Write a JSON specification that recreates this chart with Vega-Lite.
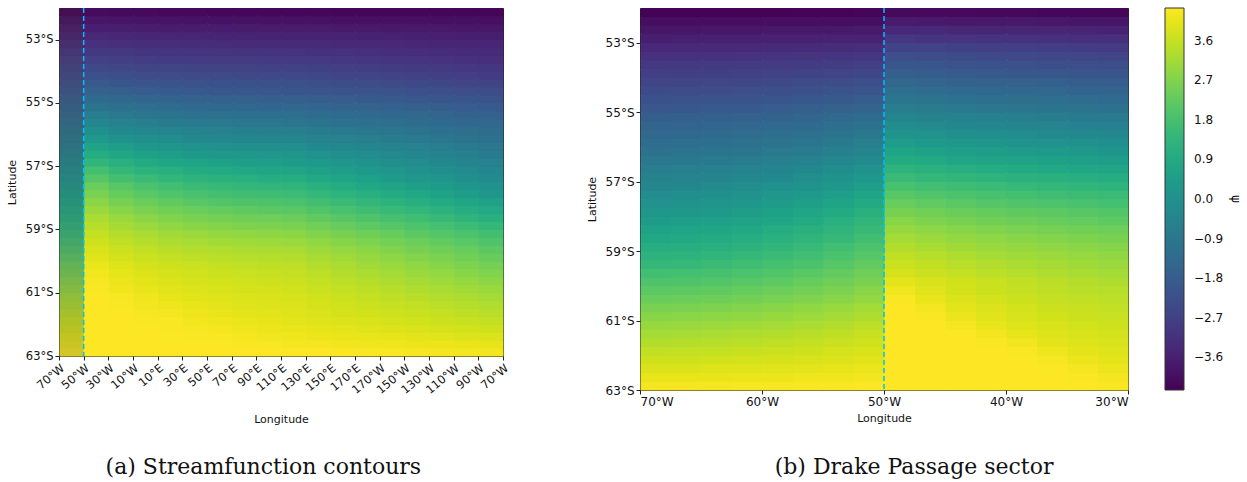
{
"$schema": "https://vega.github.io/schema/vega-lite/v6.json",
"background": "white",
"padding": {"left": 5, "top": 6, "right": 0, "bottom": 0},
"config": {
 "font": "DejaVu Sans",
 "view": {"stroke": "#222", "strokeWidth": 1},
 "axis": {"grid": false, "domain": false, "tickColor": "#222", "tickSize": 4, "labelColor": "#111", "titleColor": "#111", "labelFont": "DejaVu Sans", "labelFontSize": 11.5, "titleFont": "DejaVu Sans", "titleFontSize": 11, "titleFontWeight": "normal", "labelOverlap": false, "labelBound": false, "labelPadding": 2}
},
"datasets": {
"a": [
{"lon":-60,"lat":52.125,"psi":-4.3},{"lon":-40,"lat":52.125,"psi":-4.13},{"lon":-20,"lat":52.125,"psi":-4.16},{"lon":0,"lat":52.125,"psi":-4.17},{"lon":20,"lat":52.125,"psi":-4.19},{"lon":40,"lat":52.125,"psi":-4.2},{"lon":60,"lat":52.125,"psi":-4.21},{"lon":80,"lat":52.125,"psi":-4.21},{"lon":100,"lat":52.125,"psi":-4.22},{"lon":120,"lat":52.125,"psi":-4.22},{"lon":140,"lat":52.125,"psi":-4.22},{"lon":160,"lat":52.125,"psi":-4.23},{"lon":180,"lat":52.125,"psi":-4.23},{"lon":200,"lat":52.125,"psi":-4.23},{"lon":220,"lat":52.125,"psi":-4.24},{"lon":240,"lat":52.125,"psi":-4.24},{"lon":260,"lat":52.125,"psi":-4.25},{"lon":280,"lat":52.125,"psi":-4.25},
{"lon":-60,"lat":52.375,"psi":-4.07},{"lon":-40,"lat":52.375,"psi":-3.88},{"lon":-20,"lat":52.375,"psi":-3.91},{"lon":0,"lat":52.375,"psi":-3.93},{"lon":20,"lat":52.375,"psi":-3.94},{"lon":40,"lat":52.375,"psi":-3.96},{"lon":60,"lat":52.375,"psi":-3.96},{"lon":80,"lat":52.375,"psi":-3.97},{"lon":100,"lat":52.375,"psi":-3.98},{"lon":120,"lat":52.375,"psi":-3.98},{"lon":140,"lat":52.375,"psi":-3.99},{"lon":160,"lat":52.375,"psi":-4.0},{"lon":180,"lat":52.375,"psi":-4.01},{"lon":200,"lat":52.375,"psi":-4.01},{"lon":220,"lat":52.375,"psi":-4.02},{"lon":240,"lat":52.375,"psi":-4.03},{"lon":260,"lat":52.375,"psi":-4.04},{"lon":280,"lat":52.375,"psi":-4.05},
{"lon":-60,"lat":52.625,"psi":-3.83},{"lon":-40,"lat":52.625,"psi":-3.63},{"lon":-20,"lat":52.625,"psi":-3.66},{"lon":0,"lat":52.625,"psi":-3.68},{"lon":20,"lat":52.625,"psi":-3.7},{"lon":40,"lat":52.625,"psi":-3.71},{"lon":60,"lat":52.625,"psi":-3.72},{"lon":80,"lat":52.625,"psi":-3.73},{"lon":100,"lat":52.625,"psi":-3.74},{"lon":120,"lat":52.625,"psi":-3.74},{"lon":140,"lat":52.625,"psi":-3.75},{"lon":160,"lat":52.625,"psi":-3.77},{"lon":180,"lat":52.625,"psi":-3.78},{"lon":200,"lat":52.625,"psi":-3.79},{"lon":220,"lat":52.625,"psi":-3.81},{"lon":240,"lat":52.625,"psi":-3.82},{"lon":260,"lat":52.625,"psi":-3.84},{"lon":280,"lat":52.625,"psi":-3.85},
{"lon":-60,"lat":52.875,"psi":-3.6},{"lon":-40,"lat":52.875,"psi":-3.39},{"lon":-20,"lat":52.875,"psi":-3.43},{"lon":0,"lat":52.875,"psi":-3.45},{"lon":20,"lat":52.875,"psi":-3.47},{"lon":40,"lat":52.875,"psi":-3.49},{"lon":60,"lat":52.875,"psi":-3.5},{"lon":80,"lat":52.875,"psi":-3.51},{"lon":100,"lat":52.875,"psi":-3.52},{"lon":120,"lat":52.875,"psi":-3.52},{"lon":140,"lat":52.875,"psi":-3.54},{"lon":160,"lat":52.875,"psi":-3.55},{"lon":180,"lat":52.875,"psi":-3.57},{"lon":200,"lat":52.875,"psi":-3.59},{"lon":220,"lat":52.875,"psi":-3.6},{"lon":240,"lat":52.875,"psi":-3.62},{"lon":260,"lat":52.875,"psi":-3.64},{"lon":280,"lat":52.875,"psi":-3.66},
{"lon":-60,"lat":53.125,"psi":-3.34},{"lon":-40,"lat":53.125,"psi":-3.16},{"lon":-20,"lat":53.125,"psi":-3.2},{"lon":0,"lat":53.125,"psi":-3.23},{"lon":20,"lat":53.125,"psi":-3.25},{"lon":40,"lat":53.125,"psi":-3.27},{"lon":60,"lat":53.125,"psi":-3.29},{"lon":80,"lat":53.125,"psi":-3.3},{"lon":100,"lat":53.125,"psi":-3.3},{"lon":120,"lat":53.125,"psi":-3.31},{"lon":140,"lat":53.125,"psi":-3.33},{"lon":160,"lat":53.125,"psi":-3.35},{"lon":180,"lat":53.125,"psi":-3.38},{"lon":200,"lat":53.125,"psi":-3.4},{"lon":220,"lat":53.125,"psi":-3.42},{"lon":240,"lat":53.125,"psi":-3.44},{"lon":260,"lat":53.125,"psi":-3.47},{"lon":280,"lat":53.125,"psi":-3.49},
{"lon":-60,"lat":53.375,"psi":-3.1},{"lon":-40,"lat":53.375,"psi":-2.94},{"lon":-20,"lat":53.375,"psi":-2.99},{"lon":0,"lat":53.375,"psi":-3.02},{"lon":20,"lat":53.375,"psi":-3.04},{"lon":40,"lat":53.375,"psi":-3.06},{"lon":60,"lat":53.375,"psi":-3.07},{"lon":80,"lat":53.375,"psi":-3.09},{"lon":100,"lat":53.375,"psi":-3.09},{"lon":120,"lat":53.375,"psi":-3.1},{"lon":140,"lat":53.375,"psi":-3.13},{"lon":160,"lat":53.375,"psi":-3.16},{"lon":180,"lat":53.375,"psi":-3.18},{"lon":200,"lat":53.375,"psi":-3.21},{"lon":220,"lat":53.375,"psi":-3.24},{"lon":240,"lat":53.375,"psi":-3.27},{"lon":260,"lat":53.375,"psi":-3.3},{"lon":280,"lat":53.375,"psi":-3.33},
{"lon":-60,"lat":53.625,"psi":-2.88},{"lon":-40,"lat":53.625,"psi":-2.71},{"lon":-20,"lat":53.625,"psi":-2.76},{"lon":0,"lat":53.625,"psi":-2.8},{"lon":20,"lat":53.625,"psi":-2.83},{"lon":40,"lat":53.625,"psi":-2.85},{"lon":60,"lat":53.625,"psi":-2.87},{"lon":80,"lat":53.625,"psi":-2.88},{"lon":100,"lat":53.625,"psi":-2.89},{"lon":120,"lat":53.625,"psi":-2.9},{"lon":140,"lat":53.625,"psi":-2.93},{"lon":160,"lat":53.625,"psi":-2.97},{"lon":180,"lat":53.625,"psi":-3.0},{"lon":200,"lat":53.625,"psi":-3.03},{"lon":220,"lat":53.625,"psi":-3.07},{"lon":240,"lat":53.625,"psi":-3.1},{"lon":260,"lat":53.625,"psi":-3.14},{"lon":280,"lat":53.625,"psi":-3.18},
{"lon":-60,"lat":53.875,"psi":-2.68},{"lon":-40,"lat":53.875,"psi":-2.48},{"lon":-20,"lat":53.875,"psi":-2.54},{"lon":0,"lat":53.875,"psi":-2.59},{"lon":20,"lat":53.875,"psi":-2.62},{"lon":40,"lat":53.875,"psi":-2.65},{"lon":60,"lat":53.875,"psi":-2.67},{"lon":80,"lat":53.875,"psi":-2.68},{"lon":100,"lat":53.875,"psi":-2.69},{"lon":120,"lat":53.875,"psi":-2.7},{"lon":140,"lat":53.875,"psi":-2.74},{"lon":160,"lat":53.875,"psi":-2.77},{"lon":180,"lat":53.875,"psi":-2.81},{"lon":200,"lat":53.875,"psi":-2.85},{"lon":220,"lat":53.875,"psi":-2.89},{"lon":240,"lat":53.875,"psi":-2.92},{"lon":260,"lat":53.875,"psi":-2.97},{"lon":280,"lat":53.875,"psi":-3.01},
{"lon":-60,"lat":54.125,"psi":-2.49},{"lon":-40,"lat":54.125,"psi":-2.23},{"lon":-20,"lat":54.125,"psi":-2.3},{"lon":0,"lat":54.125,"psi":-2.36},{"lon":20,"lat":54.125,"psi":-2.39},{"lon":40,"lat":54.125,"psi":-2.43},{"lon":60,"lat":54.125,"psi":-2.45},{"lon":80,"lat":54.125,"psi":-2.47},{"lon":100,"lat":54.125,"psi":-2.48},{"lon":120,"lat":54.125,"psi":-2.49},{"lon":140,"lat":54.125,"psi":-2.53},{"lon":160,"lat":54.125,"psi":-2.57},{"lon":180,"lat":54.125,"psi":-2.62},{"lon":200,"lat":54.125,"psi":-2.66},{"lon":220,"lat":54.125,"psi":-2.7},{"lon":240,"lat":54.125,"psi":-2.74},{"lon":260,"lat":54.125,"psi":-2.79},{"lon":280,"lat":54.125,"psi":-2.84},
{"lon":-60,"lat":54.375,"psi":-2.29},{"lon":-40,"lat":54.375,"psi":-1.95},{"lon":-20,"lat":54.375,"psi":-2.04},{"lon":0,"lat":54.375,"psi":-2.1},{"lon":20,"lat":54.375,"psi":-2.15},{"lon":40,"lat":54.375,"psi":-2.18},{"lon":60,"lat":54.375,"psi":-2.21},{"lon":80,"lat":54.375,"psi":-2.23},{"lon":100,"lat":54.375,"psi":-2.25},{"lon":120,"lat":54.375,"psi":-2.26},{"lon":140,"lat":54.375,"psi":-2.3},{"lon":160,"lat":54.375,"psi":-2.35},{"lon":180,"lat":54.375,"psi":-2.39},{"lon":200,"lat":54.375,"psi":-2.44},{"lon":220,"lat":54.375,"psi":-2.48},{"lon":240,"lat":54.375,"psi":-2.53},{"lon":260,"lat":54.375,"psi":-2.58},{"lon":280,"lat":54.375,"psi":-2.63},
{"lon":-60,"lat":54.625,"psi":-2.07},{"lon":-40,"lat":54.625,"psi":-1.65},{"lon":-20,"lat":54.625,"psi":-1.75},{"lon":0,"lat":54.625,"psi":-1.83},{"lon":20,"lat":54.625,"psi":-1.88},{"lon":40,"lat":54.625,"psi":-1.93},{"lon":60,"lat":54.625,"psi":-1.96},{"lon":80,"lat":54.625,"psi":-1.99},{"lon":100,"lat":54.625,"psi":-2.01},{"lon":120,"lat":54.625,"psi":-2.02},{"lon":140,"lat":54.625,"psi":-2.06},{"lon":160,"lat":54.625,"psi":-2.11},{"lon":180,"lat":54.625,"psi":-2.15},{"lon":200,"lat":54.625,"psi":-2.19},{"lon":220,"lat":54.625,"psi":-2.24},{"lon":240,"lat":54.625,"psi":-2.28},{"lon":260,"lat":54.625,"psi":-2.33},{"lon":280,"lat":54.625,"psi":-2.38},
{"lon":-60,"lat":54.875,"psi":-1.86},{"lon":-40,"lat":54.875,"psi":-1.34},{"lon":-20,"lat":54.875,"psi":-1.46},{"lon":0,"lat":54.875,"psi":-1.54},{"lon":20,"lat":54.875,"psi":-1.6},{"lon":40,"lat":54.875,"psi":-1.66},{"lon":60,"lat":54.875,"psi":-1.69},{"lon":80,"lat":54.875,"psi":-1.72},{"lon":100,"lat":54.875,"psi":-1.74},{"lon":120,"lat":54.875,"psi":-1.76},{"lon":140,"lat":54.875,"psi":-1.81},{"lon":160,"lat":54.875,"psi":-1.85},{"lon":180,"lat":54.875,"psi":-1.9},{"lon":200,"lat":54.875,"psi":-1.94},{"lon":220,"lat":54.875,"psi":-1.99},{"lon":240,"lat":54.875,"psi":-2.03},{"lon":260,"lat":54.875,"psi":-2.09},{"lon":280,"lat":54.875,"psi":-2.14},
{"lon":-60,"lat":55.125,"psi":-1.64},{"lon":-40,"lat":55.125,"psi":-1.01},{"lon":-20,"lat":55.125,"psi":-1.14},{"lon":0,"lat":55.125,"psi":-1.24},{"lon":20,"lat":55.125,"psi":-1.31},{"lon":40,"lat":55.125,"psi":-1.37},{"lon":60,"lat":55.125,"psi":-1.41},{"lon":80,"lat":55.125,"psi":-1.45},{"lon":100,"lat":55.125,"psi":-1.47},{"lon":120,"lat":55.125,"psi":-1.49},{"lon":140,"lat":55.125,"psi":-1.54},{"lon":160,"lat":55.125,"psi":-1.59},{"lon":180,"lat":55.125,"psi":-1.64},{"lon":200,"lat":55.125,"psi":-1.69},{"lon":220,"lat":55.125,"psi":-1.74},{"lon":240,"lat":55.125,"psi":-1.79},{"lon":260,"lat":55.125,"psi":-1.85},{"lon":280,"lat":55.125,"psi":-1.91},
{"lon":-60,"lat":55.375,"psi":-1.44},{"lon":-40,"lat":55.375,"psi":-0.69},{"lon":-20,"lat":55.375,"psi":-0.84},{"lon":0,"lat":55.375,"psi":-0.94},{"lon":20,"lat":55.375,"psi":-1.02},{"lon":40,"lat":55.375,"psi":-1.08},{"lon":60,"lat":55.375,"psi":-1.13},{"lon":80,"lat":55.375,"psi":-1.16},{"lon":100,"lat":55.375,"psi":-1.19},{"lon":120,"lat":55.375,"psi":-1.21},{"lon":140,"lat":55.375,"psi":-1.27},{"lon":160,"lat":55.375,"psi":-1.33},{"lon":180,"lat":55.375,"psi":-1.39},{"lon":200,"lat":55.375,"psi":-1.45},{"lon":220,"lat":55.375,"psi":-1.5},{"lon":240,"lat":55.375,"psi":-1.56},{"lon":260,"lat":55.375,"psi":-1.63},{"lon":280,"lat":55.375,"psi":-1.7},
{"lon":-60,"lat":55.625,"psi":-1.25},{"lon":-40,"lat":55.625,"psi":-0.36},{"lon":-20,"lat":55.625,"psi":-0.52},{"lon":0,"lat":55.625,"psi":-0.64},{"lon":20,"lat":55.625,"psi":-0.73},{"lon":40,"lat":55.625,"psi":-0.8},{"lon":60,"lat":55.625,"psi":-0.85},{"lon":80,"lat":55.625,"psi":-0.89},{"lon":100,"lat":55.625,"psi":-0.92},{"lon":120,"lat":55.625,"psi":-0.94},{"lon":140,"lat":55.625,"psi":-1.01},{"lon":160,"lat":55.625,"psi":-1.07},{"lon":180,"lat":55.625,"psi":-1.14},{"lon":200,"lat":55.625,"psi":-1.21},{"lon":220,"lat":55.625,"psi":-1.28},{"lon":240,"lat":55.625,"psi":-1.34},{"lon":260,"lat":55.625,"psi":-1.42},{"lon":280,"lat":55.625,"psi":-1.5},
{"lon":-60,"lat":55.875,"psi":-1.06},{"lon":-40,"lat":55.875,"psi":-0.03},{"lon":-20,"lat":55.875,"psi":-0.21},{"lon":0,"lat":55.875,"psi":-0.33},{"lon":20,"lat":55.875,"psi":-0.43},{"lon":40,"lat":55.875,"psi":-0.5},{"lon":60,"lat":55.875,"psi":-0.56},{"lon":80,"lat":55.875,"psi":-0.6},{"lon":100,"lat":55.875,"psi":-0.64},{"lon":120,"lat":55.875,"psi":-0.66},{"lon":140,"lat":55.875,"psi":-0.74},{"lon":160,"lat":55.875,"psi":-0.81},{"lon":180,"lat":55.875,"psi":-0.89},{"lon":200,"lat":55.875,"psi":-0.97},{"lon":220,"lat":55.875,"psi":-1.04},{"lon":240,"lat":55.875,"psi":-1.12},{"lon":260,"lat":55.875,"psi":-1.21},{"lon":280,"lat":55.875,"psi":-1.3},
{"lon":-60,"lat":56.125,"psi":-0.87},{"lon":-40,"lat":56.125,"psi":0.33},{"lon":-20,"lat":56.125,"psi":0.13},{"lon":0,"lat":56.125,"psi":-0.02},{"lon":20,"lat":56.125,"psi":-0.12},{"lon":40,"lat":56.125,"psi":-0.21},{"lon":60,"lat":56.125,"psi":-0.28},{"lon":80,"lat":56.125,"psi":-0.33},{"lon":100,"lat":56.125,"psi":-0.36},{"lon":120,"lat":56.125,"psi":-0.39},{"lon":140,"lat":56.125,"psi":-0.48},{"lon":160,"lat":56.125,"psi":-0.56},{"lon":180,"lat":56.125,"psi":-0.65},{"lon":200,"lat":56.125,"psi":-0.73},{"lon":220,"lat":56.125,"psi":-0.82},{"lon":240,"lat":56.125,"psi":-0.9},{"lon":260,"lat":56.125,"psi":-1.0},{"lon":280,"lat":56.125,"psi":-1.1},
{"lon":-60,"lat":56.375,"psi":-0.67},{"lon":-40,"lat":56.375,"psi":0.68},{"lon":-20,"lat":56.375,"psi":0.46},{"lon":0,"lat":56.375,"psi":0.3},{"lon":20,"lat":56.375,"psi":0.18},{"lon":40,"lat":56.375,"psi":0.09},{"lon":60,"lat":56.375,"psi":0.02},{"lon":80,"lat":56.375,"psi":-0.04},{"lon":100,"lat":56.375,"psi":-0.08},{"lon":120,"lat":56.375,"psi":-0.11},{"lon":140,"lat":56.375,"psi":-0.21},{"lon":160,"lat":56.375,"psi":-0.3},{"lon":180,"lat":56.375,"psi":-0.4},{"lon":200,"lat":56.375,"psi":-0.49},{"lon":220,"lat":56.375,"psi":-0.59},{"lon":240,"lat":56.375,"psi":-0.69},{"lon":260,"lat":56.375,"psi":-0.8},{"lon":280,"lat":56.375,"psi":-0.91},
{"lon":-60,"lat":56.625,"psi":-0.45},{"lon":-40,"lat":56.625,"psi":1.03},{"lon":-20,"lat":56.625,"psi":0.79},{"lon":0,"lat":56.625,"psi":0.61},{"lon":20,"lat":56.625,"psi":0.48},{"lon":40,"lat":56.625,"psi":0.38},{"lon":60,"lat":56.625,"psi":0.3},{"lon":80,"lat":56.625,"psi":0.24},{"lon":100,"lat":56.625,"psi":0.2},{"lon":120,"lat":56.625,"psi":0.16},{"lon":140,"lat":56.625,"psi":0.05},{"lon":160,"lat":56.625,"psi":-0.06},{"lon":180,"lat":56.625,"psi":-0.16},{"lon":200,"lat":56.625,"psi":-0.27},{"lon":220,"lat":56.625,"psi":-0.38},{"lon":240,"lat":56.625,"psi":-0.49},{"lon":260,"lat":56.625,"psi":-0.61},{"lon":280,"lat":56.625,"psi":-0.74},
{"lon":-60,"lat":56.875,"psi":-0.25},{"lon":-40,"lat":56.875,"psi":1.38},{"lon":-20,"lat":56.875,"psi":1.12},{"lon":0,"lat":56.875,"psi":0.93},{"lon":20,"lat":56.875,"psi":0.79},{"lon":40,"lat":56.875,"psi":0.68},{"lon":60,"lat":56.875,"psi":0.6},{"lon":80,"lat":56.875,"psi":0.53},{"lon":100,"lat":56.875,"psi":0.49},{"lon":120,"lat":56.875,"psi":0.45},{"lon":140,"lat":56.875,"psi":0.33},{"lon":160,"lat":56.875,"psi":0.21},{"lon":180,"lat":56.875,"psi":0.09},{"lon":200,"lat":56.875,"psi":-0.04},{"lon":220,"lat":56.875,"psi":-0.16},{"lon":240,"lat":56.875,"psi":-0.28},{"lon":260,"lat":56.875,"psi":-0.42},{"lon":280,"lat":56.875,"psi":-0.56},
{"lon":-60,"lat":57.125,"psi":-0.06},{"lon":-40,"lat":57.125,"psi":1.73},{"lon":-20,"lat":57.125,"psi":1.45},{"lon":0,"lat":57.125,"psi":1.26},{"lon":20,"lat":57.125,"psi":1.11},{"lon":40,"lat":57.125,"psi":0.99},{"lon":60,"lat":57.125,"psi":0.9},{"lon":80,"lat":57.125,"psi":0.83},{"lon":100,"lat":57.125,"psi":0.78},{"lon":120,"lat":57.125,"psi":0.74},{"lon":140,"lat":57.125,"psi":0.6},{"lon":160,"lat":57.125,"psi":0.47},{"lon":180,"lat":57.125,"psi":0.33},{"lon":200,"lat":57.125,"psi":0.2},{"lon":220,"lat":57.125,"psi":0.06},{"lon":240,"lat":57.125,"psi":-0.07},{"lon":260,"lat":57.125,"psi":-0.23},{"lon":280,"lat":57.125,"psi":-0.39},
{"lon":-60,"lat":57.375,"psi":0.14},{"lon":-40,"lat":57.375,"psi":2.05},{"lon":-20,"lat":57.375,"psi":1.76},{"lon":0,"lat":57.375,"psi":1.56},{"lon":20,"lat":57.375,"psi":1.4},{"lon":40,"lat":57.375,"psi":1.28},{"lon":60,"lat":57.375,"psi":1.19},{"lon":80,"lat":57.375,"psi":1.11},{"lon":100,"lat":57.375,"psi":1.06},{"lon":120,"lat":57.375,"psi":1.02},{"lon":140,"lat":57.375,"psi":0.88},{"lon":160,"lat":57.375,"psi":0.73},{"lon":180,"lat":57.375,"psi":0.58},{"lon":200,"lat":57.375,"psi":0.44},{"lon":220,"lat":57.375,"psi":0.29},{"lon":240,"lat":57.375,"psi":0.15},{"lon":260,"lat":57.375,"psi":-0.02},{"lon":280,"lat":57.375,"psi":-0.19},
{"lon":-60,"lat":57.625,"psi":0.35},{"lon":-40,"lat":57.625,"psi":2.35},{"lon":-20,"lat":57.625,"psi":2.06},{"lon":0,"lat":57.625,"psi":1.85},{"lon":20,"lat":57.625,"psi":1.7},{"lon":40,"lat":57.625,"psi":1.57},{"lon":60,"lat":57.625,"psi":1.48},{"lon":80,"lat":57.625,"psi":1.4},{"lon":100,"lat":57.625,"psi":1.35},{"lon":120,"lat":57.625,"psi":1.31},{"lon":140,"lat":57.625,"psi":1.16},{"lon":160,"lat":57.625,"psi":1.01},{"lon":180,"lat":57.625,"psi":0.85},{"lon":200,"lat":57.625,"psi":0.7},{"lon":220,"lat":57.625,"psi":0.55},{"lon":240,"lat":57.625,"psi":0.4},{"lon":260,"lat":57.625,"psi":0.22},{"lon":280,"lat":57.625,"psi":0.04},
{"lon":-60,"lat":57.875,"psi":0.55},{"lon":-40,"lat":57.875,"psi":2.61},{"lon":-20,"lat":57.875,"psi":2.32},{"lon":0,"lat":57.875,"psi":2.12},{"lon":20,"lat":57.875,"psi":1.97},{"lon":40,"lat":57.875,"psi":1.85},{"lon":60,"lat":57.875,"psi":1.75},{"lon":80,"lat":57.875,"psi":1.68},{"lon":100,"lat":57.875,"psi":1.63},{"lon":120,"lat":57.875,"psi":1.59},{"lon":140,"lat":57.875,"psi":1.44},{"lon":160,"lat":57.875,"psi":1.28},{"lon":180,"lat":57.875,"psi":1.13},{"lon":200,"lat":57.875,"psi":0.97},{"lon":220,"lat":57.875,"psi":0.82},{"lon":240,"lat":57.875,"psi":0.66},{"lon":260,"lat":57.875,"psi":0.48},{"lon":280,"lat":57.875,"psi":0.3},
{"lon":-60,"lat":58.125,"psi":0.75},{"lon":-40,"lat":58.125,"psi":2.84},{"lon":-20,"lat":58.125,"psi":2.57},{"lon":0,"lat":58.125,"psi":2.37},{"lon":20,"lat":58.125,"psi":2.22},{"lon":40,"lat":58.125,"psi":2.11},{"lon":60,"lat":58.125,"psi":2.02},{"lon":80,"lat":58.125,"psi":1.95},{"lon":100,"lat":58.125,"psi":1.9},{"lon":120,"lat":58.125,"psi":1.86},{"lon":140,"lat":58.125,"psi":1.71},{"lon":160,"lat":58.125,"psi":1.56},{"lon":180,"lat":58.125,"psi":1.41},{"lon":200,"lat":58.125,"psi":1.26},{"lon":220,"lat":58.125,"psi":1.1},{"lon":240,"lat":58.125,"psi":0.95},{"lon":260,"lat":58.125,"psi":0.78},{"lon":280,"lat":58.125,"psi":0.6},
{"lon":-60,"lat":58.375,"psi":0.95},{"lon":-40,"lat":58.375,"psi":3.05},{"lon":-20,"lat":58.375,"psi":2.79},{"lon":0,"lat":58.375,"psi":2.61},{"lon":20,"lat":58.375,"psi":2.47},{"lon":40,"lat":58.375,"psi":2.36},{"lon":60,"lat":58.375,"psi":2.28},{"lon":80,"lat":58.375,"psi":2.21},{"lon":100,"lat":58.375,"psi":2.17},{"lon":120,"lat":58.375,"psi":2.13},{"lon":140,"lat":58.375,"psi":1.98},{"lon":160,"lat":58.375,"psi":1.83},{"lon":180,"lat":58.375,"psi":1.68},{"lon":200,"lat":58.375,"psi":1.54},{"lon":220,"lat":58.375,"psi":1.39},{"lon":240,"lat":58.375,"psi":1.24},{"lon":260,"lat":58.375,"psi":1.06},{"lon":280,"lat":58.375,"psi":0.89},
{"lon":-60,"lat":58.625,"psi":1.14},{"lon":-40,"lat":58.625,"psi":3.25},{"lon":-20,"lat":58.625,"psi":3.01},{"lon":0,"lat":58.625,"psi":2.83},{"lon":20,"lat":58.625,"psi":2.7},{"lon":40,"lat":58.625,"psi":2.6},{"lon":60,"lat":58.625,"psi":2.52},{"lon":80,"lat":58.625,"psi":2.46},{"lon":100,"lat":58.625,"psi":2.42},{"lon":120,"lat":58.625,"psi":2.38},{"lon":140,"lat":58.625,"psi":2.23},{"lon":160,"lat":58.625,"psi":2.09},{"lon":180,"lat":58.625,"psi":1.94},{"lon":200,"lat":58.625,"psi":1.79},{"lon":220,"lat":58.625,"psi":1.65},{"lon":240,"lat":58.625,"psi":1.5},{"lon":260,"lat":58.625,"psi":1.33},{"lon":280,"lat":58.625,"psi":1.16},
{"lon":-60,"lat":58.875,"psi":1.33},{"lon":-40,"lat":58.875,"psi":3.43},{"lon":-20,"lat":58.875,"psi":3.2},{"lon":0,"lat":58.875,"psi":3.04},{"lon":20,"lat":58.875,"psi":2.91},{"lon":40,"lat":58.875,"psi":2.82},{"lon":60,"lat":58.875,"psi":2.74},{"lon":80,"lat":58.875,"psi":2.68},{"lon":100,"lat":58.875,"psi":2.64},{"lon":120,"lat":58.875,"psi":2.61},{"lon":140,"lat":58.875,"psi":2.47},{"lon":160,"lat":58.875,"psi":2.33},{"lon":180,"lat":58.875,"psi":2.19},{"lon":200,"lat":58.875,"psi":2.05},{"lon":220,"lat":58.875,"psi":1.91},{"lon":240,"lat":58.875,"psi":1.77},{"lon":260,"lat":58.875,"psi":1.6},{"lon":280,"lat":58.875,"psi":1.44},
{"lon":-60,"lat":59.125,"psi":1.52},{"lon":-40,"lat":59.125,"psi":3.58},{"lon":-20,"lat":59.125,"psi":3.37},{"lon":0,"lat":59.125,"psi":3.23},{"lon":20,"lat":59.125,"psi":3.11},{"lon":40,"lat":59.125,"psi":3.03},{"lon":60,"lat":59.125,"psi":2.96},{"lon":80,"lat":59.125,"psi":2.91},{"lon":100,"lat":59.125,"psi":2.87},{"lon":120,"lat":59.125,"psi":2.84},{"lon":140,"lat":59.125,"psi":2.7},{"lon":160,"lat":59.125,"psi":2.57},{"lon":180,"lat":59.125,"psi":2.43},{"lon":200,"lat":59.125,"psi":2.3},{"lon":220,"lat":59.125,"psi":2.16},{"lon":240,"lat":59.125,"psi":2.03},{"lon":260,"lat":59.125,"psi":1.87},{"lon":280,"lat":59.125,"psi":1.71},
{"lon":-60,"lat":59.375,"psi":1.72},{"lon":-40,"lat":59.375,"psi":3.71},{"lon":-20,"lat":59.375,"psi":3.52},{"lon":0,"lat":59.375,"psi":3.39},{"lon":20,"lat":59.375,"psi":3.29},{"lon":40,"lat":59.375,"psi":3.21},{"lon":60,"lat":59.375,"psi":3.15},{"lon":80,"lat":59.375,"psi":3.1},{"lon":100,"lat":59.375,"psi":3.07},{"lon":120,"lat":59.375,"psi":3.04},{"lon":140,"lat":59.375,"psi":2.91},{"lon":160,"lat":59.375,"psi":2.78},{"lon":180,"lat":59.375,"psi":2.65},{"lon":200,"lat":59.375,"psi":2.52},{"lon":220,"lat":59.375,"psi":2.39},{"lon":240,"lat":59.375,"psi":2.26},{"lon":260,"lat":59.375,"psi":2.1},{"lon":280,"lat":59.375,"psi":1.95},
{"lon":-60,"lat":59.625,"psi":1.94},{"lon":-40,"lat":59.625,"psi":3.84},{"lon":-20,"lat":59.625,"psi":3.66},{"lon":0,"lat":59.625,"psi":3.54},{"lon":20,"lat":59.625,"psi":3.44},{"lon":40,"lat":59.625,"psi":3.37},{"lon":60,"lat":59.625,"psi":3.31},{"lon":80,"lat":59.625,"psi":3.27},{"lon":100,"lat":59.625,"psi":3.24},{"lon":120,"lat":59.625,"psi":3.21},{"lon":140,"lat":59.625,"psi":3.08},{"lon":160,"lat":59.625,"psi":2.96},{"lon":180,"lat":59.625,"psi":2.83},{"lon":200,"lat":59.625,"psi":2.7},{"lon":220,"lat":59.625,"psi":2.57},{"lon":240,"lat":59.625,"psi":2.45},{"lon":260,"lat":59.625,"psi":2.3},{"lon":280,"lat":59.625,"psi":2.15},
{"lon":-60,"lat":59.875,"psi":2.14},{"lon":-40,"lat":59.875,"psi":3.96},{"lon":-20,"lat":59.875,"psi":3.79},{"lon":0,"lat":59.875,"psi":3.67},{"lon":20,"lat":59.875,"psi":3.58},{"lon":40,"lat":59.875,"psi":3.51},{"lon":60,"lat":59.875,"psi":3.46},{"lon":80,"lat":59.875,"psi":3.41},{"lon":100,"lat":59.875,"psi":3.38},{"lon":120,"lat":59.875,"psi":3.36},{"lon":140,"lat":59.875,"psi":3.24},{"lon":160,"lat":59.875,"psi":3.12},{"lon":180,"lat":59.875,"psi":2.99},{"lon":200,"lat":59.875,"psi":2.87},{"lon":220,"lat":59.875,"psi":2.75},{"lon":240,"lat":59.875,"psi":2.63},{"lon":260,"lat":59.875,"psi":2.48},{"lon":280,"lat":59.875,"psi":2.34},
{"lon":-60,"lat":60.125,"psi":2.36},{"lon":-40,"lat":60.125,"psi":4.09},{"lon":-20,"lat":60.125,"psi":3.92},{"lon":0,"lat":60.125,"psi":3.8},{"lon":20,"lat":60.125,"psi":3.71},{"lon":40,"lat":60.125,"psi":3.64},{"lon":60,"lat":60.125,"psi":3.59},{"lon":80,"lat":60.125,"psi":3.54},{"lon":100,"lat":60.125,"psi":3.51},{"lon":120,"lat":60.125,"psi":3.49},{"lon":140,"lat":60.125,"psi":3.37},{"lon":160,"lat":60.125,"psi":3.26},{"lon":180,"lat":60.125,"psi":3.14},{"lon":200,"lat":60.125,"psi":3.02},{"lon":220,"lat":60.125,"psi":2.9},{"lon":240,"lat":60.125,"psi":2.78},{"lon":260,"lat":60.125,"psi":2.65},{"lon":280,"lat":60.125,"psi":2.51},
{"lon":-60,"lat":60.375,"psi":2.56},{"lon":-40,"lat":60.375,"psi":4.19},{"lon":-20,"lat":60.375,"psi":4.02},{"lon":0,"lat":60.375,"psi":3.9},{"lon":20,"lat":60.375,"psi":3.81},{"lon":40,"lat":60.375,"psi":3.74},{"lon":60,"lat":60.375,"psi":3.69},{"lon":80,"lat":60.375,"psi":3.64},{"lon":100,"lat":60.375,"psi":3.61},{"lon":120,"lat":60.375,"psi":3.59},{"lon":140,"lat":60.375,"psi":3.48},{"lon":160,"lat":60.375,"psi":3.37},{"lon":180,"lat":60.375,"psi":3.27},{"lon":200,"lat":60.375,"psi":3.16},{"lon":220,"lat":60.375,"psi":3.05},{"lon":240,"lat":60.375,"psi":2.94},{"lon":260,"lat":60.375,"psi":2.82},{"lon":280,"lat":60.375,"psi":2.69},
{"lon":-60,"lat":60.625,"psi":2.78},{"lon":-40,"lat":60.625,"psi":4.26},{"lon":-20,"lat":60.625,"psi":4.09},{"lon":0,"lat":60.625,"psi":3.97},{"lon":20,"lat":60.625,"psi":3.88},{"lon":40,"lat":60.625,"psi":3.82},{"lon":60,"lat":60.625,"psi":3.77},{"lon":80,"lat":60.625,"psi":3.73},{"lon":100,"lat":60.625,"psi":3.7},{"lon":120,"lat":60.625,"psi":3.68},{"lon":140,"lat":60.625,"psi":3.58},{"lon":160,"lat":60.625,"psi":3.48},{"lon":180,"lat":60.625,"psi":3.39},{"lon":200,"lat":60.625,"psi":3.29},{"lon":220,"lat":60.625,"psi":3.19},{"lon":240,"lat":60.625,"psi":3.09},{"lon":260,"lat":60.625,"psi":2.98},{"lon":280,"lat":60.625,"psi":2.86},
{"lon":-60,"lat":60.875,"psi":2.97},{"lon":-40,"lat":60.875,"psi":4.31},{"lon":-20,"lat":60.875,"psi":4.17},{"lon":0,"lat":60.875,"psi":4.05},{"lon":20,"lat":60.875,"psi":3.96},{"lon":40,"lat":60.875,"psi":3.9},{"lon":60,"lat":60.875,"psi":3.85},{"lon":80,"lat":60.875,"psi":3.81},{"lon":100,"lat":60.875,"psi":3.78},{"lon":120,"lat":60.875,"psi":3.75},{"lon":140,"lat":60.875,"psi":3.66},{"lon":160,"lat":60.875,"psi":3.58},{"lon":180,"lat":60.875,"psi":3.49},{"lon":200,"lat":60.875,"psi":3.4},{"lon":220,"lat":60.875,"psi":3.32},{"lon":240,"lat":60.875,"psi":3.23},{"lon":260,"lat":60.875,"psi":3.13},{"lon":280,"lat":60.875,"psi":3.03},
{"lon":-60,"lat":61.125,"psi":3.16},{"lon":-40,"lat":61.125,"psi":4.34},{"lon":-20,"lat":61.125,"psi":4.26},{"lon":0,"lat":61.125,"psi":4.14},{"lon":20,"lat":61.125,"psi":4.04},{"lon":40,"lat":61.125,"psi":3.97},{"lon":60,"lat":61.125,"psi":3.92},{"lon":80,"lat":61.125,"psi":3.88},{"lon":100,"lat":61.125,"psi":3.85},{"lon":120,"lat":61.125,"psi":3.82},{"lon":140,"lat":61.125,"psi":3.74},{"lon":160,"lat":61.125,"psi":3.67},{"lon":180,"lat":61.125,"psi":3.59},{"lon":200,"lat":61.125,"psi":3.51},{"lon":220,"lat":61.125,"psi":3.44},{"lon":240,"lat":61.125,"psi":3.36},{"lon":260,"lat":61.125,"psi":3.27},{"lon":280,"lat":61.125,"psi":3.18},
{"lon":-60,"lat":61.375,"psi":3.33},{"lon":-40,"lat":61.375,"psi":4.35},{"lon":-20,"lat":61.375,"psi":4.31},{"lon":0,"lat":61.375,"psi":4.21},{"lon":20,"lat":61.375,"psi":4.13},{"lon":40,"lat":61.375,"psi":4.05},{"lon":60,"lat":61.375,"psi":3.99},{"lon":80,"lat":61.375,"psi":3.94},{"lon":100,"lat":61.375,"psi":3.91},{"lon":120,"lat":61.375,"psi":3.88},{"lon":140,"lat":61.375,"psi":3.81},{"lon":160,"lat":61.375,"psi":3.74},{"lon":180,"lat":61.375,"psi":3.68},{"lon":200,"lat":61.375,"psi":3.61},{"lon":220,"lat":61.375,"psi":3.54},{"lon":240,"lat":61.375,"psi":3.47},{"lon":260,"lat":61.375,"psi":3.39},{"lon":280,"lat":61.375,"psi":3.31},
{"lon":-60,"lat":61.625,"psi":3.49},{"lon":-40,"lat":61.625,"psi":4.35},{"lon":-20,"lat":61.625,"psi":4.34},{"lon":0,"lat":61.625,"psi":4.27},{"lon":20,"lat":61.625,"psi":4.22},{"lon":40,"lat":61.625,"psi":4.13},{"lon":60,"lat":61.625,"psi":4.07},{"lon":80,"lat":61.625,"psi":4.0},{"lon":100,"lat":61.625,"psi":3.96},{"lon":120,"lat":61.625,"psi":3.93},{"lon":140,"lat":61.625,"psi":3.87},{"lon":160,"lat":61.625,"psi":3.81},{"lon":180,"lat":61.625,"psi":3.75},{"lon":200,"lat":61.625,"psi":3.7},{"lon":220,"lat":61.625,"psi":3.64},{"lon":240,"lat":61.625,"psi":3.58},{"lon":260,"lat":61.625,"psi":3.51},{"lon":280,"lat":61.625,"psi":3.44},
{"lon":-60,"lat":61.875,"psi":3.65},{"lon":-40,"lat":61.875,"psi":4.35},{"lon":-20,"lat":61.875,"psi":4.35},{"lon":0,"lat":61.875,"psi":4.31},{"lon":20,"lat":61.875,"psi":4.28},{"lon":40,"lat":61.875,"psi":4.2},{"lon":60,"lat":61.875,"psi":4.14},{"lon":80,"lat":61.875,"psi":4.07},{"lon":100,"lat":61.875,"psi":4.03},{"lon":120,"lat":61.875,"psi":3.99},{"lon":140,"lat":61.875,"psi":3.94},{"lon":160,"lat":61.875,"psi":3.89},{"lon":180,"lat":61.875,"psi":3.84},{"lon":200,"lat":61.875,"psi":3.79},{"lon":220,"lat":61.875,"psi":3.74},{"lon":240,"lat":61.875,"psi":3.69},{"lon":260,"lat":61.875,"psi":3.63},{"lon":280,"lat":61.875,"psi":3.57},
{"lon":-60,"lat":62.125,"psi":3.8},{"lon":-40,"lat":62.125,"psi":4.35},{"lon":-20,"lat":62.125,"psi":4.35},{"lon":0,"lat":62.125,"psi":4.34},{"lon":20,"lat":62.125,"psi":4.31},{"lon":40,"lat":62.125,"psi":4.27},{"lon":60,"lat":62.125,"psi":4.23},{"lon":80,"lat":62.125,"psi":4.16},{"lon":100,"lat":62.125,"psi":4.1},{"lon":120,"lat":62.125,"psi":4.06},{"lon":140,"lat":62.125,"psi":4.02},{"lon":160,"lat":62.125,"psi":3.98},{"lon":180,"lat":62.125,"psi":3.93},{"lon":200,"lat":62.125,"psi":3.89},{"lon":220,"lat":62.125,"psi":3.85},{"lon":240,"lat":62.125,"psi":3.81},{"lon":260,"lat":62.125,"psi":3.76},{"lon":280,"lat":62.125,"psi":3.71},
{"lon":-60,"lat":62.375,"psi":3.96},{"lon":-40,"lat":62.375,"psi":4.35},{"lon":-20,"lat":62.375,"psi":4.35},{"lon":0,"lat":62.375,"psi":4.35},{"lon":20,"lat":62.375,"psi":4.34},{"lon":40,"lat":62.375,"psi":4.31},{"lon":60,"lat":62.375,"psi":4.29},{"lon":80,"lat":62.375,"psi":4.23},{"lon":100,"lat":62.375,"psi":4.19},{"lon":120,"lat":62.375,"psi":4.15},{"lon":140,"lat":62.375,"psi":4.12},{"lon":160,"lat":62.375,"psi":4.08},{"lon":180,"lat":62.375,"psi":4.05},{"lon":200,"lat":62.375,"psi":4.02},{"lon":220,"lat":62.375,"psi":3.98},{"lon":240,"lat":62.375,"psi":3.95},{"lon":260,"lat":62.375,"psi":3.91},{"lon":280,"lat":62.375,"psi":3.87},
{"lon":-60,"lat":62.625,"psi":4.11},{"lon":-40,"lat":62.625,"psi":4.35},{"lon":-20,"lat":62.625,"psi":4.35},{"lon":0,"lat":62.625,"psi":4.35},{"lon":20,"lat":62.625,"psi":4.35},{"lon":40,"lat":62.625,"psi":4.34},{"lon":60,"lat":62.625,"psi":4.32},{"lon":80,"lat":62.625,"psi":4.3},{"lon":100,"lat":62.625,"psi":4.28},{"lon":120,"lat":62.625,"psi":4.25},{"lon":140,"lat":62.625,"psi":4.23},{"lon":160,"lat":62.625,"psi":4.2},{"lon":180,"lat":62.625,"psi":4.17},{"lon":200,"lat":62.625,"psi":4.15},{"lon":220,"lat":62.625,"psi":4.12},{"lon":240,"lat":62.625,"psi":4.1},{"lon":260,"lat":62.625,"psi":4.07},{"lon":280,"lat":62.625,"psi":4.04},
{"lon":-60,"lat":62.875,"psi":4.27},{"lon":-40,"lat":62.875,"psi":4.35},{"lon":-20,"lat":62.875,"psi":4.35},{"lon":0,"lat":62.875,"psi":4.35},{"lon":20,"lat":62.875,"psi":4.35},{"lon":40,"lat":62.875,"psi":4.35},{"lon":60,"lat":62.875,"psi":4.35},{"lon":80,"lat":62.875,"psi":4.35},{"lon":100,"lat":62.875,"psi":4.35},{"lon":120,"lat":62.875,"psi":4.35},{"lon":140,"lat":62.875,"psi":4.33},{"lon":160,"lat":62.875,"psi":4.31},{"lon":180,"lat":62.875,"psi":4.3},{"lon":200,"lat":62.875,"psi":4.28},{"lon":220,"lat":62.875,"psi":4.26},{"lon":240,"lat":62.875,"psi":4.24},{"lon":260,"lat":62.875,"psi":4.22},{"lon":280,"lat":62.875,"psi":4.2}
],
"b": [
{"lon":-68.75,"lat":52.125,"psi":-4.31},{"lon":-66.25,"lat":52.125,"psi":-4.31},{"lon":-63.75,"lat":52.125,"psi":-4.31},{"lon":-61.25,"lat":52.125,"psi":-4.3},{"lon":-58.75,"lat":52.125,"psi":-4.3},{"lon":-56.25,"lat":52.125,"psi":-4.29},{"lon":-53.75,"lat":52.125,"psi":-4.28},{"lon":-51.25,"lat":52.125,"psi":-4.27},{"lon":-48.75,"lat":52.125,"psi":-4.15},{"lon":-46.25,"lat":52.125,"psi":-4.17},{"lon":-43.75,"lat":52.125,"psi":-4.18},{"lon":-41.25,"lat":52.125,"psi":-4.19},{"lon":-38.75,"lat":52.125,"psi":-4.2},{"lon":-36.25,"lat":52.125,"psi":-4.21},{"lon":-33.75,"lat":52.125,"psi":-4.22},{"lon":-31.25,"lat":52.125,"psi":-4.23},
{"lon":-68.75,"lat":52.375,"psi":-4.09},{"lon":-66.25,"lat":52.375,"psi":-4.09},{"lon":-63.75,"lat":52.375,"psi":-4.08},{"lon":-61.25,"lat":52.375,"psi":-4.08},{"lon":-58.75,"lat":52.375,"psi":-4.07},{"lon":-56.25,"lat":52.375,"psi":-4.06},{"lon":-53.75,"lat":52.375,"psi":-4.05},{"lon":-51.25,"lat":52.375,"psi":-4.04},{"lon":-48.75,"lat":52.375,"psi":-3.75},{"lon":-46.25,"lat":52.375,"psi":-3.77},{"lon":-43.75,"lat":52.375,"psi":-3.79},{"lon":-41.25,"lat":52.375,"psi":-3.81},{"lon":-38.75,"lat":52.375,"psi":-3.83},{"lon":-36.25,"lat":52.375,"psi":-3.84},{"lon":-33.75,"lat":52.375,"psi":-3.86},{"lon":-31.25,"lat":52.375,"psi":-3.87},
{"lon":-68.75,"lat":52.625,"psi":-3.86},{"lon":-66.25,"lat":52.625,"psi":-3.86},{"lon":-63.75,"lat":52.625,"psi":-3.85},{"lon":-61.25,"lat":52.625,"psi":-3.84},{"lon":-58.75,"lat":52.625,"psi":-3.83},{"lon":-56.25,"lat":52.625,"psi":-3.82},{"lon":-53.75,"lat":52.625,"psi":-3.8},{"lon":-51.25,"lat":52.625,"psi":-3.78},{"lon":-48.75,"lat":52.625,"psi":-3.35},{"lon":-46.25,"lat":52.625,"psi":-3.38},{"lon":-43.75,"lat":52.625,"psi":-3.41},{"lon":-41.25,"lat":52.625,"psi":-3.44},{"lon":-38.75,"lat":52.625,"psi":-3.46},{"lon":-36.25,"lat":52.625,"psi":-3.48},{"lon":-33.75,"lat":52.625,"psi":-3.5},{"lon":-31.25,"lat":52.625,"psi":-3.52},
{"lon":-68.75,"lat":52.875,"psi":-3.63},{"lon":-66.25,"lat":52.875,"psi":-3.62},{"lon":-63.75,"lat":52.875,"psi":-3.62},{"lon":-61.25,"lat":52.875,"psi":-3.61},{"lon":-58.75,"lat":52.875,"psi":-3.59},{"lon":-56.25,"lat":52.875,"psi":-3.58},{"lon":-53.75,"lat":52.875,"psi":-3.56},{"lon":-51.25,"lat":52.875,"psi":-3.53},{"lon":-48.75,"lat":52.875,"psi":-2.98},{"lon":-46.25,"lat":52.875,"psi":-3.02},{"lon":-43.75,"lat":52.875,"psi":-3.06},{"lon":-41.25,"lat":52.875,"psi":-3.09},{"lon":-38.75,"lat":52.875,"psi":-3.12},{"lon":-36.25,"lat":52.875,"psi":-3.15},{"lon":-33.75,"lat":52.875,"psi":-3.18},{"lon":-31.25,"lat":52.875,"psi":-3.2},
{"lon":-68.75,"lat":53.125,"psi":-3.38},{"lon":-66.25,"lat":53.125,"psi":-3.37},{"lon":-63.75,"lat":53.125,"psi":-3.36},{"lon":-61.25,"lat":53.125,"psi":-3.35},{"lon":-58.75,"lat":53.125,"psi":-3.33},{"lon":-56.25,"lat":53.125,"psi":-3.31},{"lon":-53.75,"lat":53.125,"psi":-3.29},{"lon":-51.25,"lat":53.125,"psi":-3.25},{"lon":-48.75,"lat":53.125,"psi":-2.63},{"lon":-46.25,"lat":53.125,"psi":-2.68},{"lon":-43.75,"lat":53.125,"psi":-2.72},{"lon":-41.25,"lat":53.125,"psi":-2.76},{"lon":-38.75,"lat":53.125,"psi":-2.79},{"lon":-36.25,"lat":53.125,"psi":-2.82},{"lon":-33.75,"lat":53.125,"psi":-2.85},{"lon":-31.25,"lat":53.125,"psi":-2.88},
{"lon":-68.75,"lat":53.375,"psi":-3.15},{"lon":-66.25,"lat":53.375,"psi":-3.14},{"lon":-63.75,"lat":53.375,"psi":-3.13},{"lon":-61.25,"lat":53.375,"psi":-3.11},{"lon":-58.75,"lat":53.375,"psi":-3.09},{"lon":-56.25,"lat":53.375,"psi":-3.07},{"lon":-53.75,"lat":53.375,"psi":-3.03},{"lon":-51.25,"lat":53.375,"psi":-3.0},{"lon":-48.75,"lat":53.375,"psi":-2.31},{"lon":-46.25,"lat":53.375,"psi":-2.37},{"lon":-43.75,"lat":53.375,"psi":-2.41},{"lon":-41.25,"lat":53.375,"psi":-2.46},{"lon":-38.75,"lat":53.375,"psi":-2.49},{"lon":-36.25,"lat":53.375,"psi":-2.53},{"lon":-33.75,"lat":53.375,"psi":-2.56},{"lon":-31.25,"lat":53.375,"psi":-2.59},
{"lon":-68.75,"lat":53.625,"psi":-2.95},{"lon":-66.25,"lat":53.625,"psi":-2.94},{"lon":-63.75,"lat":53.625,"psi":-2.92},{"lon":-61.25,"lat":53.625,"psi":-2.9},{"lon":-58.75,"lat":53.625,"psi":-2.87},{"lon":-56.25,"lat":53.625,"psi":-2.84},{"lon":-53.75,"lat":53.625,"psi":-2.8},{"lon":-51.25,"lat":53.625,"psi":-2.75},{"lon":-48.75,"lat":53.625,"psi":-2.04},{"lon":-46.25,"lat":53.625,"psi":-2.1},{"lon":-43.75,"lat":53.625,"psi":-2.16},{"lon":-41.25,"lat":53.625,"psi":-2.2},{"lon":-38.75,"lat":53.625,"psi":-2.24},{"lon":-36.25,"lat":53.625,"psi":-2.28},{"lon":-33.75,"lat":53.625,"psi":-2.32},{"lon":-31.25,"lat":53.625,"psi":-2.35},
{"lon":-68.75,"lat":53.875,"psi":-2.76},{"lon":-66.25,"lat":53.875,"psi":-2.75},{"lon":-63.75,"lat":53.875,"psi":-2.73},{"lon":-61.25,"lat":53.875,"psi":-2.7},{"lon":-58.75,"lat":53.875,"psi":-2.67},{"lon":-56.25,"lat":53.875,"psi":-2.63},{"lon":-53.75,"lat":53.875,"psi":-2.58},{"lon":-51.25,"lat":53.875,"psi":-2.52},{"lon":-48.75,"lat":53.875,"psi":-1.76},{"lon":-46.25,"lat":53.875,"psi":-1.83},{"lon":-43.75,"lat":53.875,"psi":-1.88},{"lon":-41.25,"lat":53.875,"psi":-1.93},{"lon":-38.75,"lat":53.875,"psi":-1.97},{"lon":-36.25,"lat":53.875,"psi":-2.01},{"lon":-33.75,"lat":53.875,"psi":-2.05},{"lon":-31.25,"lat":53.875,"psi":-2.09},
{"lon":-68.75,"lat":54.125,"psi":-2.59},{"lon":-66.25,"lat":54.125,"psi":-2.57},{"lon":-63.75,"lat":54.125,"psi":-2.55},{"lon":-61.25,"lat":54.125,"psi":-2.52},{"lon":-58.75,"lat":54.125,"psi":-2.48},{"lon":-56.25,"lat":54.125,"psi":-2.43},{"lon":-53.75,"lat":54.125,"psi":-2.37},{"lon":-51.25,"lat":54.125,"psi":-2.3},{"lon":-48.75,"lat":54.125,"psi":-1.49},{"lon":-46.25,"lat":54.125,"psi":-1.56},{"lon":-43.75,"lat":54.125,"psi":-1.62},{"lon":-41.25,"lat":54.125,"psi":-1.67},{"lon":-38.75,"lat":54.125,"psi":-1.72},{"lon":-36.25,"lat":54.125,"psi":-1.76},{"lon":-33.75,"lat":54.125,"psi":-1.8},{"lon":-31.25,"lat":54.125,"psi":-1.84},
{"lon":-68.75,"lat":54.375,"psi":-2.4},{"lon":-66.25,"lat":54.375,"psi":-2.38},{"lon":-63.75,"lat":54.375,"psi":-2.36},{"lon":-61.25,"lat":54.375,"psi":-2.32},{"lon":-58.75,"lat":54.375,"psi":-2.27},{"lon":-56.25,"lat":54.375,"psi":-2.22},{"lon":-53.75,"lat":54.375,"psi":-2.15},{"lon":-51.25,"lat":54.375,"psi":-2.07},{"lon":-48.75,"lat":54.375,"psi":-1.22},{"lon":-46.25,"lat":54.375,"psi":-1.29},{"lon":-43.75,"lat":54.375,"psi":-1.36},{"lon":-41.25,"lat":54.375,"psi":-1.41},{"lon":-38.75,"lat":54.375,"psi":-1.46},{"lon":-36.25,"lat":54.375,"psi":-1.5},{"lon":-33.75,"lat":54.375,"psi":-1.55},{"lon":-31.25,"lat":54.375,"psi":-1.59},
{"lon":-68.75,"lat":54.625,"psi":-2.2},{"lon":-66.25,"lat":54.625,"psi":-2.18},{"lon":-63.75,"lat":54.625,"psi":-2.15},{"lon":-61.25,"lat":54.625,"psi":-2.11},{"lon":-58.75,"lat":54.625,"psi":-2.05},{"lon":-56.25,"lat":54.625,"psi":-1.99},{"lon":-53.75,"lat":54.625,"psi":-1.91},{"lon":-51.25,"lat":54.625,"psi":-1.82},{"lon":-48.75,"lat":54.625,"psi":-0.95},{"lon":-46.25,"lat":54.625,"psi":-1.03},{"lon":-43.75,"lat":54.625,"psi":-1.09},{"lon":-41.25,"lat":54.625,"psi":-1.15},{"lon":-38.75,"lat":54.625,"psi":-1.2},{"lon":-36.25,"lat":54.625,"psi":-1.25},{"lon":-33.75,"lat":54.625,"psi":-1.3},{"lon":-31.25,"lat":54.625,"psi":-1.34},
{"lon":-68.75,"lat":54.875,"psi":-2.0},{"lon":-66.25,"lat":54.875,"psi":-1.98},{"lon":-63.75,"lat":54.875,"psi":-1.94},{"lon":-61.25,"lat":54.875,"psi":-1.9},{"lon":-58.75,"lat":54.875,"psi":-1.84},{"lon":-56.25,"lat":54.875,"psi":-1.77},{"lon":-53.75,"lat":54.875,"psi":-1.68},{"lon":-51.25,"lat":54.875,"psi":-1.58},{"lon":-48.75,"lat":54.875,"psi":-0.69},{"lon":-46.25,"lat":54.875,"psi":-0.77},{"lon":-43.75,"lat":54.875,"psi":-0.84},{"lon":-41.25,"lat":54.875,"psi":-0.9},{"lon":-38.75,"lat":54.875,"psi":-0.96},{"lon":-36.25,"lat":54.875,"psi":-1.01},{"lon":-33.75,"lat":54.875,"psi":-1.06},{"lon":-31.25,"lat":54.875,"psi":-1.1},
{"lon":-68.75,"lat":55.125,"psi":-1.8},{"lon":-66.25,"lat":55.125,"psi":-1.77},{"lon":-63.75,"lat":55.125,"psi":-1.74},{"lon":-61.25,"lat":55.125,"psi":-1.69},{"lon":-58.75,"lat":55.125,"psi":-1.62},{"lon":-56.25,"lat":55.125,"psi":-1.54},{"lon":-53.75,"lat":55.125,"psi":-1.45},{"lon":-51.25,"lat":55.125,"psi":-1.33},{"lon":-48.75,"lat":55.125,"psi":-0.42},{"lon":-46.25,"lat":55.125,"psi":-0.5},{"lon":-43.75,"lat":55.125,"psi":-0.58},{"lon":-41.25,"lat":55.125,"psi":-0.64},{"lon":-38.75,"lat":55.125,"psi":-0.69},{"lon":-36.25,"lat":55.125,"psi":-0.74},{"lon":-33.75,"lat":55.125,"psi":-0.79},{"lon":-31.25,"lat":55.125,"psi":-0.84},
{"lon":-68.75,"lat":55.375,"psi":-1.61},{"lon":-66.25,"lat":55.375,"psi":-1.58},{"lon":-63.75,"lat":55.375,"psi":-1.54},{"lon":-61.25,"lat":55.375,"psi":-1.49},{"lon":-58.75,"lat":55.375,"psi":-1.41},{"lon":-56.25,"lat":55.375,"psi":-1.33},{"lon":-53.75,"lat":55.375,"psi":-1.22},{"lon":-51.25,"lat":55.375,"psi":-1.1},{"lon":-48.75,"lat":55.375,"psi":-0.14},{"lon":-46.25,"lat":55.375,"psi":-0.23},{"lon":-43.75,"lat":55.375,"psi":-0.3},{"lon":-41.25,"lat":55.375,"psi":-0.36},{"lon":-38.75,"lat":55.375,"psi":-0.42},{"lon":-36.25,"lat":55.375,"psi":-0.47},{"lon":-33.75,"lat":55.375,"psi":-0.52},{"lon":-31.25,"lat":55.375,"psi":-0.57},
{"lon":-68.75,"lat":55.625,"psi":-1.44},{"lon":-66.25,"lat":55.625,"psi":-1.41},{"lon":-63.75,"lat":55.625,"psi":-1.37},{"lon":-61.25,"lat":55.625,"psi":-1.3},{"lon":-58.75,"lat":55.625,"psi":-1.22},{"lon":-56.25,"lat":55.625,"psi":-1.13},{"lon":-53.75,"lat":55.625,"psi":-1.02},{"lon":-51.25,"lat":55.625,"psi":-0.88},{"lon":-48.75,"lat":55.625,"psi":0.14},{"lon":-46.25,"lat":55.625,"psi":0.05},{"lon":-43.75,"lat":55.625,"psi":-0.03},{"lon":-41.25,"lat":55.625,"psi":-0.09},{"lon":-38.75,"lat":55.625,"psi":-0.15},{"lon":-36.25,"lat":55.625,"psi":-0.21},{"lon":-33.75,"lat":55.625,"psi":-0.26},{"lon":-31.25,"lat":55.625,"psi":-0.31},
{"lon":-68.75,"lat":55.875,"psi":-1.26},{"lon":-66.25,"lat":55.875,"psi":-1.23},{"lon":-63.75,"lat":55.875,"psi":-1.18},{"lon":-61.25,"lat":55.875,"psi":-1.11},{"lon":-58.75,"lat":55.875,"psi":-1.03},{"lon":-56.25,"lat":55.875,"psi":-0.93},{"lon":-53.75,"lat":55.875,"psi":-0.8},{"lon":-51.25,"lat":55.875,"psi":-0.66},{"lon":-48.75,"lat":55.875,"psi":0.42},{"lon":-46.25,"lat":55.875,"psi":0.33},{"lon":-43.75,"lat":55.875,"psi":0.25},{"lon":-41.25,"lat":55.875,"psi":0.18},{"lon":-38.75,"lat":55.875,"psi":0.11},{"lon":-36.25,"lat":55.875,"psi":0.06},{"lon":-33.75,"lat":55.875,"psi":0.0},{"lon":-31.25,"lat":55.875,"psi":-0.05},
{"lon":-68.75,"lat":56.125,"psi":-1.09},{"lon":-66.25,"lat":56.125,"psi":-1.05},{"lon":-63.75,"lat":56.125,"psi":-1.0},{"lon":-61.25,"lat":56.125,"psi":-0.93},{"lon":-58.75,"lat":56.125,"psi":-0.84},{"lon":-56.25,"lat":56.125,"psi":-0.73},{"lon":-53.75,"lat":56.125,"psi":-0.6},{"lon":-51.25,"lat":56.125,"psi":-0.44},{"lon":-48.75,"lat":56.125,"psi":0.71},{"lon":-46.25,"lat":56.125,"psi":0.61},{"lon":-43.75,"lat":56.125,"psi":0.53},{"lon":-41.25,"lat":56.125,"psi":0.46},{"lon":-38.75,"lat":56.125,"psi":0.39},{"lon":-36.25,"lat":56.125,"psi":0.33},{"lon":-33.75,"lat":56.125,"psi":0.27},{"lon":-31.25,"lat":56.125,"psi":0.22},
{"lon":-68.75,"lat":56.375,"psi":-0.9},{"lon":-66.25,"lat":56.375,"psi":-0.86},{"lon":-63.75,"lat":56.375,"psi":-0.81},{"lon":-61.25,"lat":56.375,"psi":-0.73},{"lon":-58.75,"lat":56.375,"psi":-0.63},{"lon":-56.25,"lat":56.375,"psi":-0.52},{"lon":-53.75,"lat":56.375,"psi":-0.38},{"lon":-51.25,"lat":56.375,"psi":-0.21},{"lon":-48.75,"lat":56.375,"psi":0.99},{"lon":-46.25,"lat":56.375,"psi":0.89},{"lon":-43.75,"lat":56.375,"psi":0.8},{"lon":-41.25,"lat":56.375,"psi":0.73},{"lon":-38.75,"lat":56.375,"psi":0.66},{"lon":-36.25,"lat":56.375,"psi":0.6},{"lon":-33.75,"lat":56.375,"psi":0.54},{"lon":-31.25,"lat":56.375,"psi":0.48},
{"lon":-68.75,"lat":56.625,"psi":-0.7},{"lon":-66.25,"lat":56.625,"psi":-0.66},{"lon":-63.75,"lat":56.625,"psi":-0.6},{"lon":-61.25,"lat":56.625,"psi":-0.52},{"lon":-58.75,"lat":56.625,"psi":-0.41},{"lon":-56.25,"lat":56.625,"psi":-0.29},{"lon":-53.75,"lat":56.625,"psi":-0.14},{"lon":-51.25,"lat":56.625,"psi":0.04},{"lon":-48.75,"lat":56.625,"psi":1.28},{"lon":-46.25,"lat":56.625,"psi":1.18},{"lon":-43.75,"lat":56.625,"psi":1.09},{"lon":-41.25,"lat":56.625,"psi":1.01},{"lon":-38.75,"lat":56.625,"psi":0.94},{"lon":-36.25,"lat":56.625,"psi":0.88},{"lon":-33.75,"lat":56.625,"psi":0.82},{"lon":-31.25,"lat":56.625,"psi":0.76},
{"lon":-68.75,"lat":56.875,"psi":-0.51},{"lon":-66.25,"lat":56.875,"psi":-0.47},{"lon":-63.75,"lat":56.875,"psi":-0.41},{"lon":-61.25,"lat":56.875,"psi":-0.32},{"lon":-58.75,"lat":56.875,"psi":-0.21},{"lon":-56.25,"lat":56.875,"psi":-0.08},{"lon":-53.75,"lat":56.875,"psi":0.08},{"lon":-51.25,"lat":56.875,"psi":0.27},{"lon":-48.75,"lat":56.875,"psi":1.56},{"lon":-46.25,"lat":56.875,"psi":1.45},{"lon":-43.75,"lat":56.875,"psi":1.36},{"lon":-41.25,"lat":56.875,"psi":1.28},{"lon":-38.75,"lat":56.875,"psi":1.22},{"lon":-36.25,"lat":56.875,"psi":1.15},{"lon":-33.75,"lat":56.875,"psi":1.09},{"lon":-31.25,"lat":56.875,"psi":1.03},
{"lon":-68.75,"lat":57.125,"psi":-0.34},{"lon":-66.25,"lat":57.125,"psi":-0.29},{"lon":-63.75,"lat":57.125,"psi":-0.23},{"lon":-61.25,"lat":57.125,"psi":-0.14},{"lon":-58.75,"lat":57.125,"psi":-0.01},{"lon":-56.25,"lat":57.125,"psi":0.13},{"lon":-53.75,"lat":57.125,"psi":0.29},{"lon":-51.25,"lat":57.125,"psi":0.5},{"lon":-48.75,"lat":57.125,"psi":1.83},{"lon":-46.25,"lat":57.125,"psi":1.72},{"lon":-43.75,"lat":57.125,"psi":1.63},{"lon":-41.25,"lat":57.125,"psi":1.55},{"lon":-38.75,"lat":57.125,"psi":1.48},{"lon":-36.25,"lat":57.125,"psi":1.41},{"lon":-33.75,"lat":57.125,"psi":1.35},{"lon":-31.25,"lat":57.125,"psi":1.29},
{"lon":-68.75,"lat":57.375,"psi":-0.15},{"lon":-66.25,"lat":57.375,"psi":-0.1},{"lon":-63.75,"lat":57.375,"psi":-0.03},{"lon":-61.25,"lat":57.375,"psi":0.06},{"lon":-58.75,"lat":57.375,"psi":0.19},{"lon":-56.25,"lat":57.375,"psi":0.33},{"lon":-53.75,"lat":57.375,"psi":0.5},{"lon":-51.25,"lat":57.375,"psi":0.71},{"lon":-48.75,"lat":57.375,"psi":2.1},{"lon":-46.25,"lat":57.375,"psi":1.99},{"lon":-43.75,"lat":57.375,"psi":1.9},{"lon":-41.25,"lat":57.375,"psi":1.81},{"lon":-38.75,"lat":57.375,"psi":1.74},{"lon":-36.25,"lat":57.375,"psi":1.68},{"lon":-33.75,"lat":57.375,"psi":1.61},{"lon":-31.25,"lat":57.375,"psi":1.55},
{"lon":-68.75,"lat":57.625,"psi":0.05},{"lon":-66.25,"lat":57.625,"psi":0.1},{"lon":-63.75,"lat":57.625,"psi":0.17},{"lon":-61.25,"lat":57.625,"psi":0.27},{"lon":-58.75,"lat":57.625,"psi":0.4},{"lon":-56.25,"lat":57.625,"psi":0.55},{"lon":-53.75,"lat":57.625,"psi":0.72},{"lon":-51.25,"lat":57.625,"psi":0.94},{"lon":-48.75,"lat":57.625,"psi":2.35},{"lon":-46.25,"lat":57.625,"psi":2.24},{"lon":-43.75,"lat":57.625,"psi":2.14},{"lon":-41.25,"lat":57.625,"psi":2.05},{"lon":-38.75,"lat":57.625,"psi":1.98},{"lon":-36.25,"lat":57.625,"psi":1.91},{"lon":-33.75,"lat":57.625,"psi":1.84},{"lon":-31.25,"lat":57.625,"psi":1.78},
{"lon":-68.75,"lat":57.875,"psi":0.25},{"lon":-66.25,"lat":57.875,"psi":0.3},{"lon":-63.75,"lat":57.875,"psi":0.37},{"lon":-61.25,"lat":57.875,"psi":0.47},{"lon":-58.75,"lat":57.875,"psi":0.6},{"lon":-56.25,"lat":57.875,"psi":0.75},{"lon":-53.75,"lat":57.875,"psi":0.93},{"lon":-51.25,"lat":57.875,"psi":1.15},{"lon":-48.75,"lat":57.875,"psi":2.58},{"lon":-46.25,"lat":57.875,"psi":2.47},{"lon":-43.75,"lat":57.875,"psi":2.37},{"lon":-41.25,"lat":57.875,"psi":2.28},{"lon":-38.75,"lat":57.875,"psi":2.21},{"lon":-36.25,"lat":57.875,"psi":2.14},{"lon":-33.75,"lat":57.875,"psi":2.07},{"lon":-31.25,"lat":57.875,"psi":2.01},
{"lon":-68.75,"lat":58.125,"psi":0.45},{"lon":-66.25,"lat":58.125,"psi":0.5},{"lon":-63.75,"lat":58.125,"psi":0.57},{"lon":-61.25,"lat":58.125,"psi":0.67},{"lon":-58.75,"lat":58.125,"psi":0.8},{"lon":-56.25,"lat":58.125,"psi":0.95},{"lon":-53.75,"lat":58.125,"psi":1.13},{"lon":-51.25,"lat":58.125,"psi":1.35},{"lon":-48.75,"lat":58.125,"psi":2.79},{"lon":-46.25,"lat":58.125,"psi":2.67},{"lon":-43.75,"lat":58.125,"psi":2.58},{"lon":-41.25,"lat":58.125,"psi":2.49},{"lon":-38.75,"lat":58.125,"psi":2.41},{"lon":-36.25,"lat":58.125,"psi":2.34},{"lon":-33.75,"lat":58.125,"psi":2.27},{"lon":-31.25,"lat":58.125,"psi":2.21},
{"lon":-68.75,"lat":58.375,"psi":0.65},{"lon":-66.25,"lat":58.375,"psi":0.7},{"lon":-63.75,"lat":58.375,"psi":0.77},{"lon":-61.25,"lat":58.375,"psi":0.87},{"lon":-58.75,"lat":58.375,"psi":1.0},{"lon":-56.25,"lat":58.375,"psi":1.15},{"lon":-53.75,"lat":58.375,"psi":1.32},{"lon":-51.25,"lat":58.375,"psi":1.54},{"lon":-48.75,"lat":58.375,"psi":3.0},{"lon":-46.25,"lat":58.375,"psi":2.88},{"lon":-43.75,"lat":58.375,"psi":2.79},{"lon":-41.25,"lat":58.375,"psi":2.7},{"lon":-38.75,"lat":58.375,"psi":2.62},{"lon":-36.25,"lat":58.375,"psi":2.55},{"lon":-33.75,"lat":58.375,"psi":2.48},{"lon":-31.25,"lat":58.375,"psi":2.42},
{"lon":-68.75,"lat":58.625,"psi":0.85},{"lon":-66.25,"lat":58.625,"psi":0.9},{"lon":-63.75,"lat":58.625,"psi":0.97},{"lon":-61.25,"lat":58.625,"psi":1.06},{"lon":-58.75,"lat":58.625,"psi":1.19},{"lon":-56.25,"lat":58.625,"psi":1.33},{"lon":-53.75,"lat":58.625,"psi":1.5},{"lon":-51.25,"lat":58.625,"psi":1.71},{"lon":-48.75,"lat":58.625,"psi":3.19},{"lon":-46.25,"lat":58.625,"psi":3.07},{"lon":-43.75,"lat":58.625,"psi":2.97},{"lon":-41.25,"lat":58.625,"psi":2.88},{"lon":-38.75,"lat":58.625,"psi":2.81},{"lon":-36.25,"lat":58.625,"psi":2.74},{"lon":-33.75,"lat":58.625,"psi":2.67},{"lon":-31.25,"lat":58.625,"psi":2.6},
{"lon":-68.75,"lat":58.875,"psi":1.05},{"lon":-66.25,"lat":58.875,"psi":1.1},{"lon":-63.75,"lat":58.875,"psi":1.16},{"lon":-61.25,"lat":58.875,"psi":1.26},{"lon":-58.75,"lat":58.875,"psi":1.38},{"lon":-56.25,"lat":58.875,"psi":1.52},{"lon":-53.75,"lat":58.875,"psi":1.69},{"lon":-51.25,"lat":58.875,"psi":1.9},{"lon":-48.75,"lat":58.875,"psi":3.36},{"lon":-46.25,"lat":58.875,"psi":3.24},{"lon":-43.75,"lat":58.875,"psi":3.14},{"lon":-41.25,"lat":58.875,"psi":3.05},{"lon":-38.75,"lat":58.875,"psi":2.97},{"lon":-36.25,"lat":58.875,"psi":2.9},{"lon":-33.75,"lat":58.875,"psi":2.83},{"lon":-31.25,"lat":58.875,"psi":2.76},
{"lon":-68.75,"lat":59.125,"psi":1.25},{"lon":-66.25,"lat":59.125,"psi":1.3},{"lon":-63.75,"lat":59.125,"psi":1.36},{"lon":-61.25,"lat":59.125,"psi":1.45},{"lon":-58.75,"lat":59.125,"psi":1.57},{"lon":-56.25,"lat":59.125,"psi":1.71},{"lon":-53.75,"lat":59.125,"psi":1.87},{"lon":-51.25,"lat":59.125,"psi":2.07},{"lon":-48.75,"lat":59.125,"psi":3.52},{"lon":-46.25,"lat":59.125,"psi":3.4},{"lon":-43.75,"lat":59.125,"psi":3.3},{"lon":-41.25,"lat":59.125,"psi":3.21},{"lon":-38.75,"lat":59.125,"psi":3.13},{"lon":-36.25,"lat":59.125,"psi":3.06},{"lon":-33.75,"lat":59.125,"psi":2.99},{"lon":-31.25,"lat":59.125,"psi":2.92},
{"lon":-68.75,"lat":59.375,"psi":1.46},{"lon":-66.25,"lat":59.375,"psi":1.5},{"lon":-63.75,"lat":59.375,"psi":1.57},{"lon":-61.25,"lat":59.375,"psi":1.65},{"lon":-58.75,"lat":59.375,"psi":1.77},{"lon":-56.25,"lat":59.375,"psi":1.9},{"lon":-53.75,"lat":59.375,"psi":2.06},{"lon":-51.25,"lat":59.375,"psi":2.25},{"lon":-48.75,"lat":59.375,"psi":3.67},{"lon":-46.25,"lat":59.375,"psi":3.55},{"lon":-43.75,"lat":59.375,"psi":3.44},{"lon":-41.25,"lat":59.375,"psi":3.35},{"lon":-38.75,"lat":59.375,"psi":3.27},{"lon":-36.25,"lat":59.375,"psi":3.2},{"lon":-33.75,"lat":59.375,"psi":3.13},{"lon":-31.25,"lat":59.375,"psi":3.06},
{"lon":-68.75,"lat":59.625,"psi":1.69},{"lon":-66.25,"lat":59.625,"psi":1.73},{"lon":-63.75,"lat":59.625,"psi":1.79},{"lon":-61.25,"lat":59.625,"psi":1.87},{"lon":-58.75,"lat":59.625,"psi":1.98},{"lon":-56.25,"lat":59.625,"psi":2.11},{"lon":-53.75,"lat":59.625,"psi":2.25},{"lon":-51.25,"lat":59.625,"psi":2.44},{"lon":-48.75,"lat":59.625,"psi":3.81},{"lon":-46.25,"lat":59.625,"psi":3.68},{"lon":-43.75,"lat":59.625,"psi":3.57},{"lon":-41.25,"lat":59.625,"psi":3.48},{"lon":-38.75,"lat":59.625,"psi":3.39},{"lon":-36.25,"lat":59.625,"psi":3.32},{"lon":-33.75,"lat":59.625,"psi":3.24},{"lon":-31.25,"lat":59.625,"psi":3.17},
{"lon":-68.75,"lat":59.875,"psi":1.91},{"lon":-66.25,"lat":59.875,"psi":1.95},{"lon":-63.75,"lat":59.875,"psi":2.0},{"lon":-61.25,"lat":59.875,"psi":2.08},{"lon":-58.75,"lat":59.875,"psi":2.18},{"lon":-56.25,"lat":59.875,"psi":2.3},{"lon":-53.75,"lat":59.875,"psi":2.44},{"lon":-51.25,"lat":59.875,"psi":2.61},{"lon":-48.75,"lat":59.875,"psi":3.99},{"lon":-46.25,"lat":59.875,"psi":3.86},{"lon":-43.75,"lat":59.875,"psi":3.74},{"lon":-41.25,"lat":59.875,"psi":3.64},{"lon":-38.75,"lat":59.875,"psi":3.55},{"lon":-36.25,"lat":59.875,"psi":3.47},{"lon":-33.75,"lat":59.875,"psi":3.39},{"lon":-31.25,"lat":59.875,"psi":3.32},
{"lon":-68.75,"lat":60.125,"psi":2.14},{"lon":-66.25,"lat":60.125,"psi":2.18},{"lon":-63.75,"lat":60.125,"psi":2.23},{"lon":-61.25,"lat":60.125,"psi":2.3},{"lon":-58.75,"lat":60.125,"psi":2.4},{"lon":-56.25,"lat":60.125,"psi":2.51},{"lon":-53.75,"lat":60.125,"psi":2.64},{"lon":-51.25,"lat":60.125,"psi":2.8},{"lon":-48.75,"lat":60.125,"psi":4.15},{"lon":-46.25,"lat":60.125,"psi":3.95},{"lon":-43.75,"lat":60.125,"psi":3.8},{"lon":-41.25,"lat":60.125,"psi":3.69},{"lon":-38.75,"lat":60.125,"psi":3.6},{"lon":-36.25,"lat":60.125,"psi":3.52},{"lon":-33.75,"lat":60.125,"psi":3.46},{"lon":-31.25,"lat":60.125,"psi":3.41},
{"lon":-68.75,"lat":60.375,"psi":2.36},{"lon":-66.25,"lat":60.375,"psi":2.39},{"lon":-63.75,"lat":60.375,"psi":2.44},{"lon":-61.25,"lat":60.375,"psi":2.51},{"lon":-58.75,"lat":60.375,"psi":2.6},{"lon":-56.25,"lat":60.375,"psi":2.7},{"lon":-53.75,"lat":60.375,"psi":2.82},{"lon":-51.25,"lat":60.375,"psi":2.97},{"lon":-48.75,"lat":60.375,"psi":4.3},{"lon":-46.25,"lat":60.375,"psi":4.07},{"lon":-43.75,"lat":60.375,"psi":3.9},{"lon":-41.25,"lat":60.375,"psi":3.78},{"lon":-38.75,"lat":60.375,"psi":3.68},{"lon":-36.25,"lat":60.375,"psi":3.6},{"lon":-33.75,"lat":60.375,"psi":3.54},{"lon":-31.25,"lat":60.375,"psi":3.49},
{"lon":-68.75,"lat":60.625,"psi":2.59},{"lon":-66.25,"lat":60.625,"psi":2.62},{"lon":-63.75,"lat":60.625,"psi":2.67},{"lon":-61.25,"lat":60.625,"psi":2.73},{"lon":-58.75,"lat":60.625,"psi":2.81},{"lon":-56.25,"lat":60.625,"psi":2.91},{"lon":-53.75,"lat":60.625,"psi":3.02},{"lon":-51.25,"lat":60.625,"psi":3.16},{"lon":-48.75,"lat":60.625,"psi":4.35},{"lon":-46.25,"lat":60.625,"psi":4.22},{"lon":-43.75,"lat":60.625,"psi":4.0},{"lon":-41.25,"lat":60.625,"psi":3.87},{"lon":-38.75,"lat":60.625,"psi":3.77},{"lon":-36.25,"lat":60.625,"psi":3.68},{"lon":-33.75,"lat":60.625,"psi":3.62},{"lon":-31.25,"lat":60.625,"psi":3.56},
{"lon":-68.75,"lat":60.875,"psi":2.8},{"lon":-66.25,"lat":60.875,"psi":2.83},{"lon":-63.75,"lat":60.875,"psi":2.87},{"lon":-61.25,"lat":60.875,"psi":2.93},{"lon":-58.75,"lat":60.875,"psi":3.0},{"lon":-56.25,"lat":60.875,"psi":3.09},{"lon":-53.75,"lat":60.875,"psi":3.19},{"lon":-51.25,"lat":60.875,"psi":3.32},{"lon":-48.75,"lat":60.875,"psi":4.35},{"lon":-46.25,"lat":60.875,"psi":4.3},{"lon":-43.75,"lat":60.875,"psi":4.12},{"lon":-41.25,"lat":60.875,"psi":3.96},{"lon":-38.75,"lat":60.875,"psi":3.85},{"lon":-36.25,"lat":60.875,"psi":3.76},{"lon":-33.75,"lat":60.875,"psi":3.69},{"lon":-31.25,"lat":60.875,"psi":3.64},
{"lon":-68.75,"lat":61.125,"psi":3.0},{"lon":-66.25,"lat":61.125,"psi":3.03},{"lon":-63.75,"lat":61.125,"psi":3.06},{"lon":-61.25,"lat":61.125,"psi":3.12},{"lon":-58.75,"lat":61.125,"psi":3.19},{"lon":-56.25,"lat":61.125,"psi":3.27},{"lon":-53.75,"lat":61.125,"psi":3.36},{"lon":-51.25,"lat":61.125,"psi":3.48},{"lon":-48.75,"lat":61.125,"psi":4.35},{"lon":-46.25,"lat":61.125,"psi":4.35},{"lon":-43.75,"lat":61.125,"psi":4.25},{"lon":-41.25,"lat":61.125,"psi":4.05},{"lon":-38.75,"lat":61.125,"psi":3.93},{"lon":-36.25,"lat":61.125,"psi":3.84},{"lon":-33.75,"lat":61.125,"psi":3.77},{"lon":-31.25,"lat":61.125,"psi":3.71},
{"lon":-68.75,"lat":61.375,"psi":3.19},{"lon":-66.25,"lat":61.375,"psi":3.21},{"lon":-63.75,"lat":61.375,"psi":3.25},{"lon":-61.25,"lat":61.375,"psi":3.3},{"lon":-58.75,"lat":61.375,"psi":3.36},{"lon":-56.25,"lat":61.375,"psi":3.43},{"lon":-53.75,"lat":61.375,"psi":3.52},{"lon":-51.25,"lat":61.375,"psi":3.62},{"lon":-48.75,"lat":61.375,"psi":4.35},{"lon":-46.25,"lat":61.375,"psi":4.35},{"lon":-43.75,"lat":61.375,"psi":4.33},{"lon":-41.25,"lat":61.375,"psi":4.2},{"lon":-38.75,"lat":61.375,"psi":4.02},{"lon":-36.25,"lat":61.375,"psi":3.92},{"lon":-33.75,"lat":61.375,"psi":3.84},{"lon":-31.25,"lat":61.375,"psi":3.78},
{"lon":-68.75,"lat":61.625,"psi":3.36},{"lon":-66.25,"lat":61.625,"psi":3.38},{"lon":-63.75,"lat":61.625,"psi":3.41},{"lon":-61.25,"lat":61.625,"psi":3.46},{"lon":-58.75,"lat":61.625,"psi":3.51},{"lon":-56.25,"lat":61.625,"psi":3.58},{"lon":-53.75,"lat":61.625,"psi":3.65},{"lon":-51.25,"lat":61.625,"psi":3.75},{"lon":-48.75,"lat":61.625,"psi":4.35},{"lon":-46.25,"lat":61.625,"psi":4.35},{"lon":-43.75,"lat":61.625,"psi":4.35},{"lon":-41.25,"lat":61.625,"psi":4.3},{"lon":-38.75,"lat":61.625,"psi":4.18},{"lon":-36.25,"lat":61.625,"psi":4.01},{"lon":-33.75,"lat":61.625,"psi":3.92},{"lon":-31.25,"lat":61.625,"psi":3.85},
{"lon":-68.75,"lat":61.875,"psi":3.54},{"lon":-66.25,"lat":61.875,"psi":3.56},{"lon":-63.75,"lat":61.875,"psi":3.58},{"lon":-61.25,"lat":61.875,"psi":3.62},{"lon":-58.75,"lat":61.875,"psi":3.67},{"lon":-56.25,"lat":61.875,"psi":3.72},{"lon":-53.75,"lat":61.875,"psi":3.79},{"lon":-51.25,"lat":61.875,"psi":3.86},{"lon":-48.75,"lat":61.875,"psi":4.35},{"lon":-46.25,"lat":61.875,"psi":4.35},{"lon":-43.75,"lat":61.875,"psi":4.35},{"lon":-41.25,"lat":61.875,"psi":4.35},{"lon":-38.75,"lat":61.875,"psi":4.28},{"lon":-36.25,"lat":61.875,"psi":4.15},{"lon":-33.75,"lat":61.875,"psi":4.01},{"lon":-31.25,"lat":61.875,"psi":3.92},
{"lon":-68.75,"lat":62.125,"psi":3.71},{"lon":-66.25,"lat":62.125,"psi":3.72},{"lon":-63.75,"lat":62.125,"psi":3.75},{"lon":-61.25,"lat":62.125,"psi":3.77},{"lon":-58.75,"lat":62.125,"psi":3.81},{"lon":-56.25,"lat":62.125,"psi":3.86},{"lon":-53.75,"lat":62.125,"psi":3.91},{"lon":-51.25,"lat":62.125,"psi":3.97},{"lon":-48.75,"lat":62.125,"psi":4.35},{"lon":-46.25,"lat":62.125,"psi":4.35},{"lon":-43.75,"lat":62.125,"psi":4.35},{"lon":-41.25,"lat":62.125,"psi":4.35},{"lon":-38.75,"lat":62.125,"psi":4.33},{"lon":-36.25,"lat":62.125,"psi":4.26},{"lon":-33.75,"lat":62.125,"psi":4.12},{"lon":-31.25,"lat":62.125,"psi":4.0},
{"lon":-68.75,"lat":62.375,"psi":3.89},{"lon":-66.25,"lat":62.375,"psi":3.9},{"lon":-63.75,"lat":62.375,"psi":3.92},{"lon":-61.25,"lat":62.375,"psi":3.94},{"lon":-58.75,"lat":62.375,"psi":3.97},{"lon":-56.25,"lat":62.375,"psi":4.0},{"lon":-53.75,"lat":62.375,"psi":4.04},{"lon":-51.25,"lat":62.375,"psi":4.09},{"lon":-48.75,"lat":62.375,"psi":4.35},{"lon":-46.25,"lat":62.375,"psi":4.35},{"lon":-43.75,"lat":62.375,"psi":4.35},{"lon":-41.25,"lat":62.375,"psi":4.35},{"lon":-38.75,"lat":62.375,"psi":4.35},{"lon":-36.25,"lat":62.375,"psi":4.32},{"lon":-33.75,"lat":62.375,"psi":4.24},{"lon":-31.25,"lat":62.375,"psi":4.1},
{"lon":-68.75,"lat":62.625,"psi":4.06},{"lon":-66.25,"lat":62.625,"psi":4.07},{"lon":-63.75,"lat":62.625,"psi":4.08},{"lon":-61.25,"lat":62.625,"psi":4.09},{"lon":-58.75,"lat":62.625,"psi":4.11},{"lon":-56.25,"lat":62.625,"psi":4.14},{"lon":-53.75,"lat":62.625,"psi":4.16},{"lon":-51.25,"lat":62.625,"psi":4.2},{"lon":-48.75,"lat":62.625,"psi":4.35},{"lon":-46.25,"lat":62.625,"psi":4.35},{"lon":-43.75,"lat":62.625,"psi":4.35},{"lon":-41.25,"lat":62.625,"psi":4.35},{"lon":-38.75,"lat":62.625,"psi":4.35},{"lon":-36.25,"lat":62.625,"psi":4.35},{"lon":-33.75,"lat":62.625,"psi":4.3},{"lon":-31.25,"lat":62.625,"psi":4.22},
{"lon":-68.75,"lat":62.875,"psi":4.24},{"lon":-66.25,"lat":62.875,"psi":4.24},{"lon":-63.75,"lat":62.875,"psi":4.25},{"lon":-61.25,"lat":62.875,"psi":4.26},{"lon":-58.75,"lat":62.875,"psi":4.27},{"lon":-56.25,"lat":62.875,"psi":4.29},{"lon":-53.75,"lat":62.875,"psi":4.3},{"lon":-51.25,"lat":62.875,"psi":4.32},{"lon":-48.75,"lat":62.875,"psi":4.35},{"lon":-46.25,"lat":62.875,"psi":4.35},{"lon":-43.75,"lat":62.875,"psi":4.35},{"lon":-41.25,"lat":62.875,"psi":4.35},{"lon":-38.75,"lat":62.875,"psi":4.35},{"lon":-36.25,"lat":62.875,"psi":4.35},{"lon":-33.75,"lat":62.875,"psi":4.34},{"lon":-31.25,"lat":62.875,"psi":4.3}
]
},
"hconcat": [
{
 "width": 444, "height": 348,
 "title": {"text": "(a) Streamfunction contours", "orient": "bottom", "anchor": "middle", "frame": "bounds", "font": "DejaVu Serif", "fontSize": 22, "fontWeight": "normal", "color": "#111", "offset": 32, "dx": 5},
 "layer": [
  {"data": {"name": "a"},
   "mark": {"type": "rect", "binSpacing": 0, "xOffset": 1, "x2Offset": 1, "yOffset": 1, "y2Offset": 1, "clip": true},
   "encoding": {
    "x": {"field": "lon", "type": "quantitative", "bin": {"extent": [-70, 290], "step": 20, "nice": false}, "scale": {"domain": [-70, 290], "nice": false, "zero": false}, "title": "Longitude",
      "axis": {"values": [-70,-50,-30,-10,10,30,50,70,90,110,130,150,170,190,210,230,250,270,290], "labelExpr": "datum.value < 0 ? (-datum.value) + '°W' : (datum.value <= 180 ? datum.value + '°E' : (360 - datum.value) + '°W')", "labelAngle": -40, "labelAlign": "right", "labelBaseline": "top", "titlePadding": 18}},
    "y": {"field": "lat", "type": "quantitative", "bin": {"extent": [52, 63], "step": 0.25, "nice": false}, "scale": {"domain": [52, 63], "reverse": true, "nice": false, "zero": false}, "title": "Latitude",
      "axis": {"values": [53,55,57,59,61,63], "labelExpr": "datum.value + '°S'", "titlePadding": 8}},
    "color": {"field": "psi", "type": "quantitative", "scale": {"scheme": "viridis", "domain": [-4.35, 4.35]}, "legend": null}
   }},
  {"data": {"name": "a"},
   "mark": {"type": "rect", "binSpacing": 0},
   "encoding": {
    "x": {"field": "lon", "type": "quantitative", "bin": {"extent": [-70, 290], "step": 20, "nice": false}},
    "y": {"field": "lat", "type": "quantitative", "bin": {"extent": [52, 63], "step": 0.25, "nice": false}},
    "color": {"field": "psi", "type": "quantitative", "scale": {"scheme": "viridis", "domain": [-4.35, 4.35]}, "legend": null}
   }},
  {"data": {"values": [{}]},
   "mark": {"type": "rect", "fill": "#444444", "opacity": 0.2},
   "encoding": {"x": {"datum": -70}, "x2": {"datum": -50}, "y": {"datum": 52}, "y2": {"datum": 63}}},
  {"data": {"values": [{}]},
   "mark": {"type": "rule", "color": "#00bfff", "strokeDash": [5, 3], "strokeWidth": 1.5},
   "encoding": {"x": {"datum": -50}}}
 ]
},
{
 "width": 488, "height": 382,
 "title": {"text": "(b) Drake Passage sector", "orient": "bottom", "anchor": "middle", "frame": "bounds", "font": "DejaVu Serif", "fontSize": 22, "fontWeight": "normal", "color": "#111", "offset": 34},
 "layer": [
  {"data": {"name": "b"},
   "mark": {"type": "rect", "binSpacing": 0, "xOffset": 1, "x2Offset": 1, "yOffset": 1, "y2Offset": 1, "clip": true},
   "encoding": {
    "x": {"field": "lon", "type": "quantitative", "bin": {"extent": [-70, -30], "step": 2.5, "nice": false}, "scale": {"domain": [-70, -30], "nice": false, "zero": false}, "title": "Longitude",
      "axis": {"values": [-70,-60,-50,-40,-30], "labelExpr": "(-datum.value) + '°W'", "labelFontSize": 12, "titlePadding": 5}},
    "y": {"field": "lat", "type": "quantitative", "bin": {"extent": [52, 63], "step": 0.25, "nice": false}, "scale": {"domain": [52, 63], "reverse": true, "nice": false, "zero": false}, "title": "Latitude",
      "axis": {"values": [53,55,57,59,61,63], "labelExpr": "datum.value + '°S'", "labelFontSize": 12, "titlePadding": 8}},
    "color": {"field": "psi", "type": "quantitative", "scale": {"scheme": "viridis", "domain": [-4.35, 4.35]},
      "legend": {"type": "gradient", "title": "ψ", "titleOrient": "right", "orient": "right", "direction": "vertical", "gradientLength": 382, "gradientThickness": 19, "offset": 37, "values": [-3.6,-2.7,-1.8,-0.9,0,0.9,1.8,2.7,3.6], "labelExpr": "replace(format(datum.value, '.1f'), '-', '−')", "labelFontSize": 12, "labelFont": "DejaVu Sans", "labelColor": "#111", "labelOverlap": false, "labelOffset": 10, "gradientStrokeColor": "#333", "gradientStrokeWidth": 1, "titleFontSize": 12, "titleFontWeight": "normal", "titleFont": "DejaVu Sans", "titlePadding": 6}}
   }},
  {"data": {"name": "b"},
   "mark": {"type": "rect", "binSpacing": 0},
   "encoding": {
    "x": {"field": "lon", "type": "quantitative", "bin": {"extent": [-70, -30], "step": 2.5, "nice": false}},
    "y": {"field": "lat", "type": "quantitative", "bin": {"extent": [52, 63], "step": 0.25, "nice": false}},
    "color": {"field": "psi", "type": "quantitative", "scale": {"scheme": "viridis", "domain": [-4.35, 4.35]}}
   }},
  {"data": {"values": [{}]},
   "mark": {"type": "rule", "color": "#00bfff", "strokeDash": [5, 3], "strokeWidth": 1.5},
   "encoding": {"x": {"datum": -50}}}
 ]
}
],
"spacing": 74,
"resolve": {"scale": {"color": "independent"}}
}
